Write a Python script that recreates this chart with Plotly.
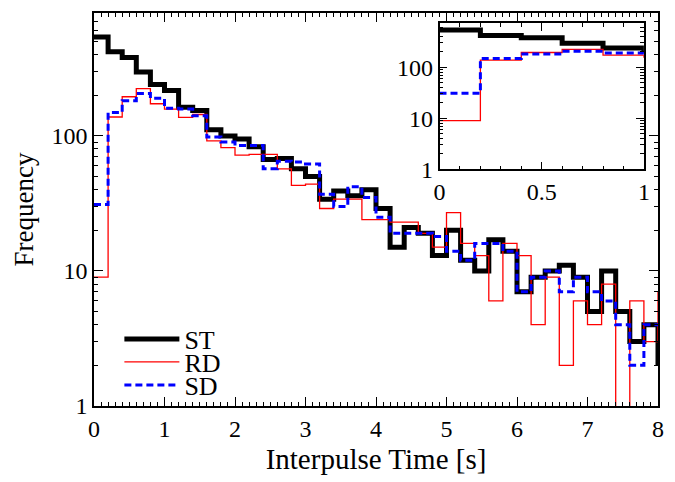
import plotly.graph_objects as go

# Bin left edges (0.2 s bins), plus one extra edge at 8.0 for the closing step
bin_left = [round(i * 0.2, 1) for i in range(41)]

st_counts = [540, 420, 380, 297, 240, 217, 163, 154, 111, 100,
             95, 83, 67, 68, 57, 50, 34, 39, 36, 40,
             29, 15, 21, 19, 13, 20, 12, 10, 17, 14,
             7, 9, 10, 11, 9, 5, 10, 5, 3, 4,
             2]
rd_counts = [9, 138, 195, 224, 173, 158, 137, 144, 92, 82,
             72, 73, 73, 57, 43, 44, 29, 34, 34, 24,
             24, 23, 23, 19, 15, 27, 16, 13, 6, 16,
             13, 4, 9, 2, 6, 4, 8, 0.3, 6, 3,
             7]
sd_counts = [31, 149, 182, 206, 190, 160, 158, 141, 98, 90,
             85, 85, 57, 65, 64, 62, 37, 30, 42, 35,
             25, 19, 19, 19, 18, 14, 12, 16, 16, 14,
             7, 9, 10, 7, 9, 7, 6, 4, 2, 4,
             4]

series = [("ST", st_counts, dict(color="black", width=5)),
          ("RD", rd_counts, dict(color="#ff0000", width=1.3)),
          ("SD", sd_counts, dict(color="#0000ff", width=3, dash="7px,4px"))]

FONT = "Liberation Serif"
FS_TICK = 24
FS_XTITLE = 29
FS_YTITLE = 27
FS_LEG = 26

fig = go.Figure()
legends = ["legend", "legend2", "legend3"]
for (name, vals, ln), lg in zip(series, legends):
    fig.add_trace(go.Scatter(x=bin_left, y=vals, mode="lines", line_shape="hv",
                             line=ln, name=name, legend=lg, cliponaxis=True))
for name, vals, ln in series:
    fig.add_trace(go.Scatter(x=bin_left, y=vals, mode="lines", line_shape="hv",
                             line=ln, name=name, showlegend=False,
                             xaxis="x2", yaxis="y2"))

axis_common = dict(showline=True, linecolor="black", linewidth=1.5, mirror="ticks",
                   ticks="inside", tickcolor="black", showgrid=False, zeroline=False,
                   automargin=False,
                   tickfont=dict(family=FONT, size=FS_TICK, color="black"))

# page body has an 8px margin, so the figure is drawn 8px in from the window edge
fig.update_layout(
    width=667, height=474,
    margin=dict(l=85.5, r=17, t=5, b=76),
    paper_bgcolor="white", plot_bgcolor="white",
    font=dict(family=FONT, size=FS_TICK, color="black"),
    xaxis=dict(range=[0, 8], dtick=1, ticklen=9, tickwidth=1.2,
               minor=dict(dtick=0.1, ticks="inside", ticklen=4, tickcolor="black"),
               title=dict(text="Interpulse Time [s]", font=dict(family=FONT, size=FS_XTITLE), standoff=8),
               **axis_common),
    yaxis=dict(type="log", range=[0, 2.91], dtick=1, ticklen=9, tickwidth=1.2,
               minor=dict(ticks="inside", ticklen=4, tickcolor="black"),
               title=dict(text="Frequency", font=dict(family=FONT, size=FS_YTITLE), standoff=10),
               **axis_common),
    xaxis2=dict(domain=[0.6126, 0.975], anchor="y2", range=[0, 1],
                tickvals=[0, 0.5, 1], ticktext=["0", "0.5", "1"], ticklen=8,
                minor=dict(dtick=0.1, ticks="inside", ticklen=4, tickcolor="black"),
                **axis_common),
    yaxis2=dict(domain=[0.6023, 0.9738], anchor="x2", type="log", range=[0, 2.863],
                dtick=1, ticklen=8,
                minor=dict(ticks="inside", ticklen=4, tickcolor="black"),
                **axis_common),
)

legend_common = dict(xanchor="left", yanchor="middle", bgcolor="rgba(0,0,0,0)",
                     font=dict(family=FONT, size=FS_LEG, color="black"), itemwidth=55)
fig.update_layout(
    legend=dict(x=0.045, y=0.1705, **legend_common),
    legend2=dict(x=0.045, y=0.112, **legend_common),
    legend3=dict(x=0.045, y=0.0534, **legend_common),
)

fig.write_html("out.html")
